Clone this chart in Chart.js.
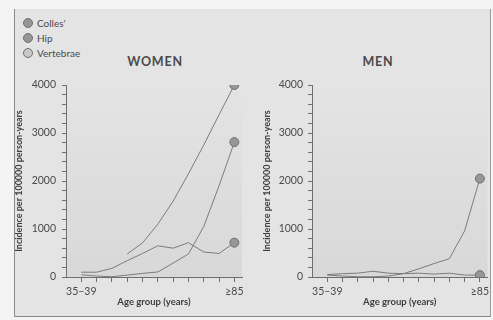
<!DOCTYPE html>
<html>
<head>
<meta charset="utf-8">
<script src="https://cdn.jsdelivr.net/npm/chart.js"></script>
<style>
  html, body { margin: 0; padding: 0; background: #f4f4f4; }
  #page { position: relative; width: 493px; height: 320px; overflow: hidden; font-family: Lato, sans-serif; color: #4a4a4a; }
  #frame { position: absolute; left: 14px; top: 9px; width: 475px; height: 307px; background: #e4e4e4;
           border-left: 1px solid #8a8a8a; border-bottom: 1px solid #8a8a8a; border-right: 1px solid #9a9a9a; }
  .cv { position: absolute; top: 0; height: 320px; }
  .legend { position: absolute; left: 23px; font-size: 10px; line-height: 12px; }
  .legend span.dot { display: inline-block; width: 8px; height: 8px; border-radius: 50%; border: 1px solid #707070;
                     background: #959595; margin-right: 4px; vertical-align: -1px; }
  .panelTitle { position: absolute; top: 54px; font-weight: bold; font-size: 12.5px; letter-spacing: 0.8px; transform: translateX(-50%); }
</style>
</head>
<body>
<div id="page">
  <div id="frame"></div>
  <div class="legend" style="top:17px"><span class="dot"></span>Colles'</div>
  <div class="legend" style="top:32px"><span class="dot"></span>Hip</div>
  <div class="legend" style="top:47px"><span class="dot" style="background:#c8c8c8"></span>Vertebrae</div>
  <div class="panelTitle" style="left:155px">WOMEN</div>
  <div class="panelTitle" style="left:378px">MEN</div>
  <canvas id="women" class="cv" style="left:0;width:250px" width="250" height="320"></canvas>
  <canvas id="men" class="cv" style="left:250px;width:243px" width="243" height="320"></canvas>
</div>
<script>
// age groups (x axis categories)
const categories = ['35–39', '40–44', '45–49', '50–54', '55–59', '60–64', '65–69', '70–74', '75–79', '80–84', '≥85'];
const shownLabels = ['35–39', '≥85'];

// incidence per 100000 person-years
const womenColles = [100, 100, 180, 340, 490, 650, 600, 715, 520, 490, 715];
const womenHip = [45, 20, 5, 40, 75, 105, 290, 480, 1050, 1900, 2810];
const womenVert = [null, null, null, 480, 710, 1100, 1580, 2150, 2750, 3380, 4000];
const menColles = [50, 70, 80, 120, 80, 70, 80, 60, 80, 40, 40];
const menHip = [40, 20, 5, 5, 20, 70, 170, 280, 380, 960, 2050];

const yTicks = [0, 1000, 2000, 3000, 4000];

const LINE = '#7b7b7b';
const AXIS = '#6e6e6e';
const TEXT = '#4a4a4a';

const toPoints = arr => arr.map((v, i) => ({ x: i, y: v }));

const series = (label, arr) => ({
  label,
  data: toPoints(arr),
  borderColor: LINE,
  borderWidth: 1,
  fill: false,
  tension: 0,
  spanGaps: false,
  pointRadius: ctx => ctx.dataIndex === arr.length - 1 ? 4.5 : 0,
  pointBackgroundColor: '#979797',
  pointBorderColor: '#6f6f6f',
  pointBorderWidth: 1
});

// faint shading of the plotting area like the scan
const shadePlugin = {
  id: 'shade',
  beforeDraw(chart) {
    const { ctx, chartArea: a } = chart;
    const g = ctx.createLinearGradient(0, a.top, 0, a.bottom);
    g.addColorStop(0, 'rgba(0,0,0,0.0)');
    g.addColorStop(1, 'rgba(0,0,0,0.05)');
    ctx.save();
    ctx.fillStyle = g;
    ctx.fillRect(a.left, a.top, a.right - a.left, a.bottom - a.top);
    ctx.restore();
  }
};

function makeChart(id, datasets, o) {
  return new Chart(document.getElementById(id), {
    type: 'line',
    data: { datasets },
    plugins: [shadePlugin],
    options: {
      responsive: false,
      animation: false,
      layout: { padding: { left: o.padLeft, right: o.padRight, top: 85, bottom: 12 } },
      plugins: { legend: { display: false }, tooltip: { enabled: false } },
      scales: {
        x: {
          type: 'linear',
          min: -1,
          max: 10.5,
          afterBuildTicks: s => { s.ticks = categories.map((c, i) => ({ value: i })); },
          afterFit: s => { s.height = 320 - 12 - 277; },
          grid: { drawOnChartArea: false, drawTicks: true, tickLength: 5, color: AXIS },
          border: { color: AXIS, width: 1 },
          ticks: {
            autoSkip: false,
            maxRotation: 0,
            padding: 3,
            color: TEXT,
            font: { family: 'Lato', size: 10.5 },
            callback: v => shownLabels.includes(categories[v]) ? categories[v] : ''
          },
          title: { display: true, text: 'Age group (years)', color: '#3e3e3e', padding: 0,
                   font: { family: 'Lato', size: 9.5, weight: 'bold' } }
        },
        y: {
          min: 0,
          max: 4000,
          afterBuildTicks: s => { s.ticks = []; for (let v = 0; v <= 4000; v += 200) s.ticks.push({ value: v }); },
          afterFit: s => { s.width = o.axisX - o.padLeft; },
          grid: { drawOnChartArea: false, drawTicks: true, tickLength: 4, color: AXIS },
          border: { color: AXIS, width: 1 },
          ticks: {
            autoSkip: false,
            padding: o.tickPad,
            color: TEXT,
            font: { family: 'Lato', size: 10.5 },
            callback: v => yTicks.includes(v) ? String(v) : ''
          },
          title: { display: true, text: 'Incidence per 100000 person-years', color: '#3e3e3e', padding: 0,
                   font: { family: 'Lato', size: 9, weight: 'bold' } }
        }
      }
    }
  });
}

makeChart('women', [
  series("Colles'", womenColles),
  series('Hip', womenHip),
  series('Vertebrae', womenVert)
], { padLeft: 14, padRight: 8, axisX: 66, tickPad: 6 });

makeChart('men', [
  series("Colles'", menColles),
  series('Hip', menHip)
], { padLeft: 12, padRight: 4, axisX: 62, tickPad: 5 });
</script>
</body>
</html>
